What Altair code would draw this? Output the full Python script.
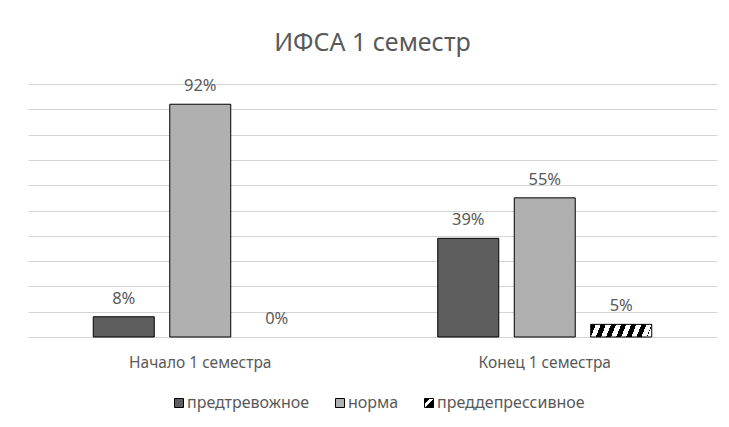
import altair as alt
import pandas as pd

groups = ["Начало 1 семестра", "Конец 1 семестра"]
series = ["предтревожное", "норма", "преддепрессивное"]
values_start = [8, 92, 0]
values_end = [39, 55, 5]
labels_start = ["8%", "92%", "0%"]
labels_end = ["39%", "55%", "5%"]
grid_values = [0, 10, 20, 30, 40, 50, 60, 70, 80, 90, 100]

rows = []
for g, vals, labs in [(groups[0], values_start, labels_start), (groups[1], values_end, labels_end)]:
    for s, v, l in zip(series, vals, labs):
        rows.append({"group": g, "series": s, "value": v, "label": l})
df = pd.DataFrame(rows)

FONT = "Noto Sans"
TXT = "#595959"
DARK = "#5e5e5e"
LIGHT = "#b0b0b0"

# diagonal hatch built as a hard-stop linear gradient
period = 0.165
stops = []
k = 0
while k * period < 1.0:
    a = k * period
    b = min(a + period / 2, 1.0)
    c = min(a + period, 1.0)
    stops += [{"offset": a, "color": "black"}, {"offset": b, "color": "black"},
              {"offset": b, "color": "white"}, {"offset": c, "color": "white"}]
    k += 1
hatch = {"gradient": "linear", "x1": 0, "y1": 0, "x2": 1, "y2": 0.082, "stops": stops}

legend_hatch_expr = (
    "{gradient: 'linear', x1: 0, y1: 0, x2: 1, y2: 1, stops: ["
    "{offset: 0, color: 'black'}, {offset: 0.3, color: 'black'},"
    "{offset: 0.3, color: 'white'}, {offset: 0.55, color: 'white'},"
    "{offset: 0.55, color: 'black'}, {offset: 1, color: 'black'}]}"
)

base = alt.Chart(df).encode(
    x=alt.X("group:N", sort=groups, title=None,
            scale=alt.Scale(paddingInner=0, paddingOuter=0),
            axis=alt.Axis(labelAngle=0, ticks=False, domain=False, grid=False,
                          labelPadding=18, labelFontSize=15.5, labelColor=TXT,
                          labelFont=FONT)),
    xOffset=alt.XOffset("series:N", sort=series,
                        scale=alt.Scale(paddingInner=0.2026, paddingOuter=0.853)),
    y=alt.Y("value:Q", title=None, scale=alt.Scale(domain=[0, 100], nice=False),
            axis=alt.Axis(values=grid_values, labels=False,
                          ticks=False, domain=False, grid=True, gridColor="#d4d4d4",
                          gridWidth=1)),
)

legend = alt.Legend(
    title=None, orient="none", legendX=143, legendY=311, direction="horizontal",
    symbolType="square", symbolSize=81, symbolStrokeColor="black",
    symbolStrokeWidth=1, symbolOpacity=1,
    labelFontSize=16, labelFont=FONT, labelColor=TXT, labelOffset=0,
    columnPadding=22,
)

bars = base.transform_filter("datum.value > 0").mark_bar(
    stroke="black", strokeWidth=1, opacity=1
).encode(
    fill=alt.condition(
        "datum.series === 'преддепрессивное'",
        alt.value(hatch),
        alt.Fill("series:N", sort=series,
                 scale=alt.Scale(domain=series,
                                 range=[DARK, LIGHT, alt.ExprRef(legend_hatch_expr)]),
                 legend=legend),
    ),
)

text = base.mark_text(
    baseline="alphabetic", dy=-13, fontSize=16.5, font=FONT, color=TXT
).encode(text="label:N")

chart = alt.layer(bars, text).properties(
    width=689, height=253,
    title=alt.TitleParams("ИФСА 1 семестр", fontSize=25, font=FONT, color=TXT,
                          fontWeight="normal", offset=22),
    padding={"top": 23, "left": 20, "right": 4, "bottom": 4},
).configure(background="white").configure_view(stroke=None)

chart.save("out.html", embed_options={"renderer": "svg", "actions": False})
